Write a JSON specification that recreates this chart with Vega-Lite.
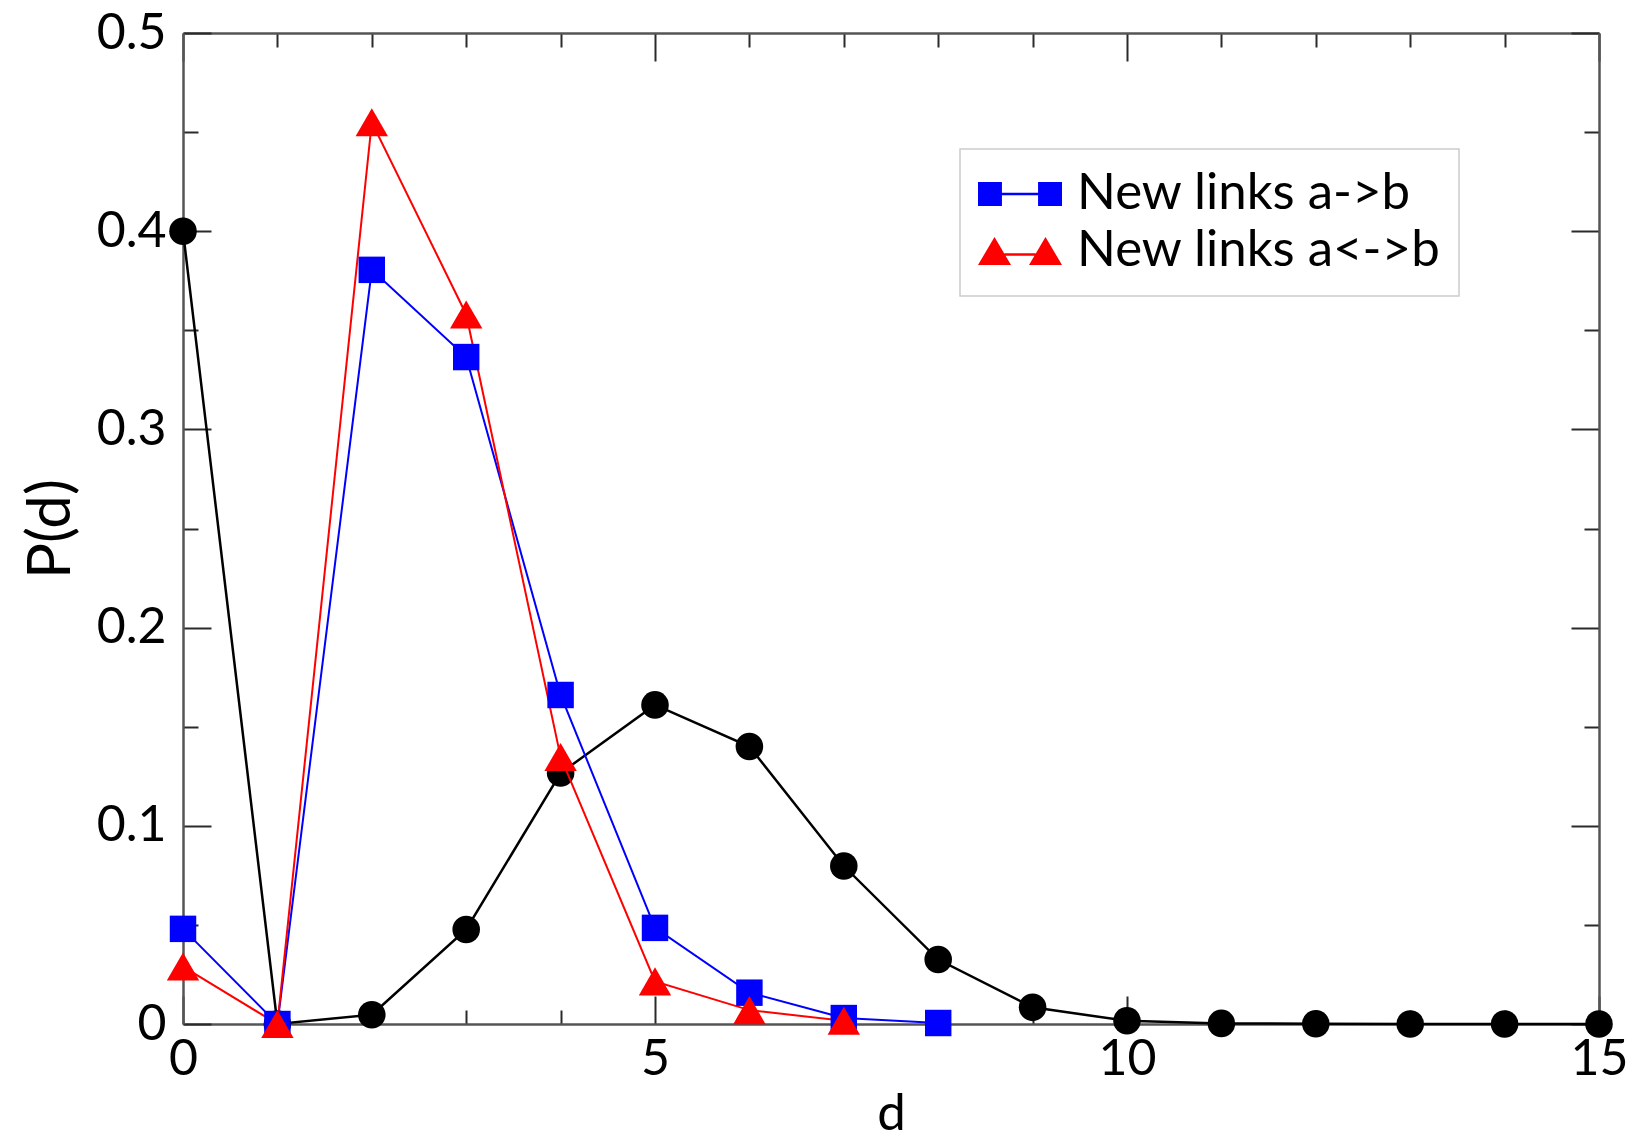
{
  "$schema": "https://vega.github.io/schema/vega-lite/v6.json",
  "width": 1416,
  "height": 991,
  "autosize": {"type": "none"},
  "padding": {"left": 183, "top": 33, "right": 33, "bottom": 121},
  "background": "white",
  "config": {"view": {"stroke": null}, "font": "Lato"},
  "data": {
    "values": [
      {"d": 0, "p": 0.400, "series": "all"},
      {"d": 1, "p": 0.0, "series": "all"},
      {"d": 2, "p": 0.0047, "series": "all"},
      {"d": 3, "p": 0.0477, "series": "all"},
      {"d": 4, "p": 0.1266, "series": "all"},
      {"d": 5, "p": 0.161, "series": "all"},
      {"d": 6, "p": 0.140, "series": "all"},
      {"d": 7, "p": 0.0797, "series": "all"},
      {"d": 8, "p": 0.0325, "series": "all"},
      {"d": 9, "p": 0.0084, "series": "all"},
      {"d": 10, "p": 0.0016, "series": "all"},
      {"d": 11, "p": 0.0003, "series": "all"},
      {"d": 12, "p": 0.0001, "series": "all"},
      {"d": 13, "p": 0.0, "series": "all"},
      {"d": 14, "p": 0.0, "series": "all"},
      {"d": 15, "p": 0.0, "series": "all"},
      {"d": 0, "p": 0.048, "series": "New links a->b"},
      {"d": 1, "p": 0.0, "series": "New links a->b"},
      {"d": 2, "p": 0.3805, "series": "New links a->b"},
      {"d": 3, "p": 0.3365, "series": "New links a->b"},
      {"d": 4, "p": 0.166, "series": "New links a->b"},
      {"d": 5, "p": 0.0485, "series": "New links a->b"},
      {"d": 6, "p": 0.0158, "series": "New links a->b"},
      {"d": 7, "p": 0.003, "series": "New links a->b"},
      {"d": 8, "p": 0.0005, "series": "New links a->b"},
      {"d": 0, "p": 0.029, "series": "New links a<->b"},
      {"d": 1, "p": 0.0, "series": "New links a<->b"},
      {"d": 2, "p": 0.455, "series": "New links a<->b"},
      {"d": 3, "p": 0.358, "series": "New links a<->b"},
      {"d": 4, "p": 0.1347, "series": "New links a<->b"},
      {"d": 5, "p": 0.0215, "series": "New links a<->b"},
      {"d": 6, "p": 0.007, "series": "New links a<->b"},
      {"d": 7, "p": 0.0016, "series": "New links a<->b"}
    ]
  },
  "layer": [
    {
      "transform": [{"filter": "datum.series === 'all'"}],
      "mark": {"type": "line", "color": "black", "strokeWidth": 2.5},
      "encoding": {
        "x": {
          "field": "d", "type": "quantitative",
          "scale": {"domain": [0, 15], "nice": false, "zero": false},
          "axis": {
            "orient": "bottom",
            "values": [0,1,2,3,4,5,6,7,8,9,10,11,12,13,14,15],
            "title": "d",
            "titleFont": "Lato", "titleFontSize": 51, "titleFontWeight": "normal", "titleColor": "black", "titlePadding": -9,
            "labelFont": "Lato", "labelFontSize": 50, "labelColor": "black",
            "labelExpr": "datum.value % 5 === 0 ? datum.label : ''",
            "labelPadding": 38, "labelFlush": false, "labelOverlap": false, "labelBound": false,
            "tickSize": {"condition": {"test": "datum.value % 5 === 0", "value": -28}, "value": -14},
            "tickColor": "#2a2a2a", "tickWidth": 2,
            "domainColor": "#555555", "domainWidth": 2.5,
            "grid": false
          }
        },
        "y": {
          "field": "p", "type": "quantitative",
          "scale": {"domain": [0, 0.5], "nice": false},
          "axis": {
            "orient": "left",
            "values": [0,0.05,0.1,0.15,0.2,0.25,0.3,0.35,0.4,0.45,0.5],
            "title": "P(d)",
            "titleFont": "Lato", "titleFontSize": 60, "titleFontWeight": "normal", "titleColor": "black", "titlePadding": 14,
            "labelFont": "Lato", "labelFontSize": 50, "labelColor": "black",
            "labelExpr": "round(datum.value*20) % 2 === 0 ? (datum.value === 0 ? '0' : format(datum.value, '.1f')) : ''",
            "labelPadding": 45, "labelFlush": false, "labelOverlap": false, "labelBound": false,
            "tickSize": {"condition": {"test": "round(datum.value*20) % 2 === 0", "value": -28}, "value": -15},
            "tickColor": "#2a2a2a", "tickWidth": 2,
            "domainColor": "#555555", "domainWidth": 2.5,
            "grid": false
          }
        }
      }
    },
    {
      "transform": [{"filter": "datum.series === 'all'"}],
      "mark": {"type": "point", "shape": "circle", "filled": true, "color": "black", "opacity": 1, "size": 760},
      "encoding": {
        "x": {
          "field": "d", "type": "quantitative",
          "axis": {
            "orient": "top",
            "values": [0,1,2,3,4,5,6,7,8,9,10,11,12,13,14,15],
            "title": null, "labels": false,
            "tickSize": {"condition": {"test": "datum.value % 5 === 0", "value": -28}, "value": -14},
            "tickColor": "#2a2a2a", "tickWidth": 2,
            "domainColor": "#555555", "domainWidth": 2.5,
            "grid": false
          }
        },
        "y": {
          "field": "p", "type": "quantitative",
          "axis": {
            "orient": "right",
            "values": [0,0.05,0.1,0.15,0.2,0.25,0.3,0.35,0.4,0.45,0.5],
            "title": null, "labels": false,
            "tickSize": {"condition": {"test": "round(datum.value*20) % 2 === 0", "value": -28}, "value": -15},
            "tickColor": "#2a2a2a", "tickWidth": 2,
            "domainColor": "#555555", "domainWidth": 2.5,
            "grid": false
          }
        }
      }
    },
    {
      "transform": [{"filter": "datum.series !== 'all'"}],
      "mark": {"type": "line", "strokeWidth": 2},
      "encoding": {
        "x": {"field": "d", "type": "quantitative", "axis": null},
        "y": {"field": "p", "type": "quantitative", "axis": null},
        "color": {
          "field": "series", "type": "nominal",
          "scale": {"domain": ["New links a->b", "New links a<->b"], "range": ["#0000ff", "#ff0000"]},
          "legend": {
            "orient": "none", "legendX": 777, "legendY": 116, "direction": "vertical",
            "title": null, "padding": 18,
            "fillColor": "white", "strokeColor": "#cccccc",
            "labelFont": "Lato", "labelFontSize": 51, "labelColor": "black", "labelLimit": 800, "labelOffset": 15,
            "symbolType": "M-1,-0.286H-0.43V-0.03H0.43V-0.286H1V0.286H0.43V0.03H-0.43V0.286H-1Z",
            "symbolSize": 7056, "clipHeight": 54, "rowPadding": 3, "symbolStrokeWidth": 0,
            "encode": {
              "legend": {"update": {"strokeWidth": {"value": 1.5}}},
              "symbols": {
                "update": {
                  "shape": {"signal": "datum.value === 'New links a->b' ? 'M-1,-0.286H-0.43V-0.03H0.43V-0.286H1V0.286H0.43V0.03H-0.43V0.286H-1Z' : 'M-1,0.333L-0.607,-0.333L-0.214,0.333Z M0.214,0.333L0.607,-0.333L1,0.333Z M-0.37,0.053H0.37V0.113H-0.37Z'"},
                  "fill": {"signal": "datum.value === 'New links a->b' ? '#0000ff' : '#ff0000'"},
                  "stroke": {"value": "transparent"},
                  "strokeWidth": {"value": 0},
                  "opacity": {"value": 1}
                }
              }
            }
          }
        }
      }
    },
    {
      "transform": [{"filter": "datum.series === 'New links a->b'"}],
      "mark": {"type": "point", "shape": "square", "filled": true, "opacity": 1, "color": "#0000ff", "size": 700},
      "encoding": {
        "x": {"field": "d", "type": "quantitative", "axis": null},
        "y": {"field": "p", "type": "quantitative", "axis": null}
      }
    },
    {
      "transform": [{"filter": "datum.series === 'New links a<->b'"}],
      "mark": {"type": "point", "shape": "triangle-up", "filled": true, "opacity": 1, "color": "#ff0000", "size": 1050},
      "encoding": {
        "x": {"field": "d", "type": "quantitative", "axis": null},
        "y": {"field": "p", "type": "quantitative", "axis": null}
      }
    }
  ],
  "resolve": {"axis": {"x": "independent", "y": "independent"}}
}
